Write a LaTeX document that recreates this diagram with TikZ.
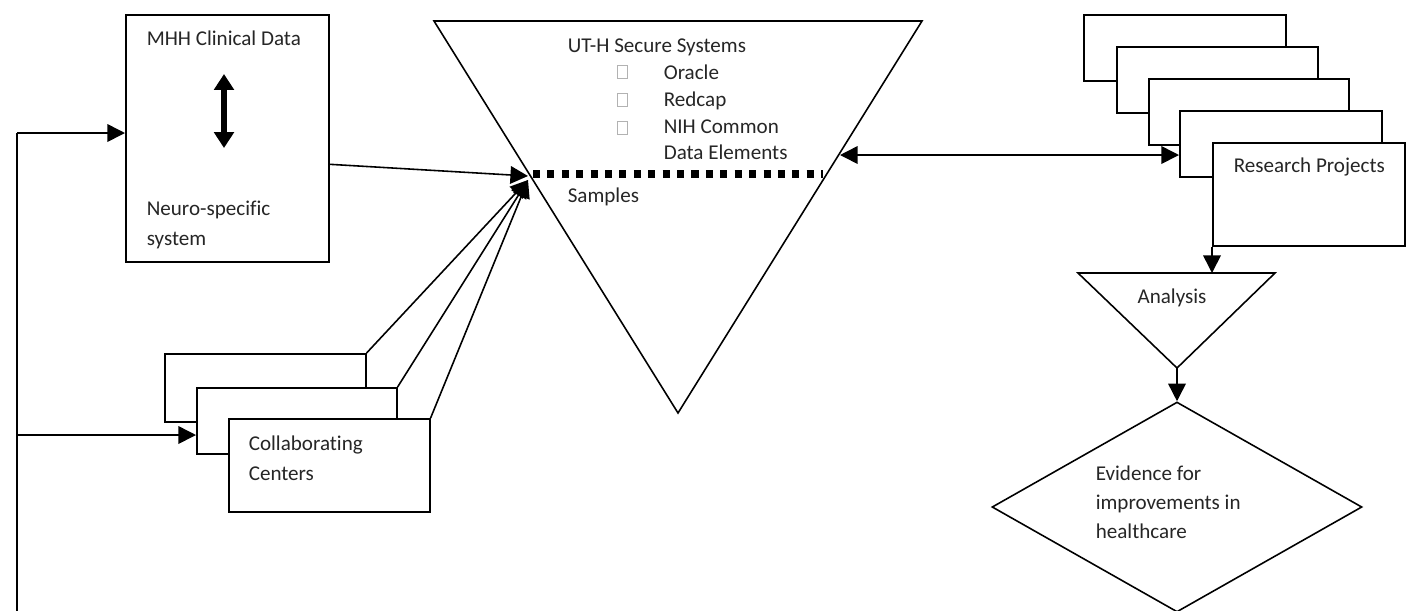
\documentclass[tikz,border=0pt]{standalone}
\usepackage{fontspec}
\setmainfont{Carlito}[Ligatures=NoCommon]
\usetikzlibrary{arrows.meta,shapes.geometric,calc}

\begin{document}
\begin{tikzpicture}[x=0.02cm,y=-0.02cm,line width=0.9pt,
  box/.style 2 args={draw,fill=white,rectangle,inner sep=0pt,anchor=north west,
    minimum width=#1*0.02cm,minimum height=#2*0.02cm},
  txt/.style={anchor=base west,inner sep=0pt,text=black!85,
    font=\fontsize{12}{14}\selectfont},
  bul/.style={draw=black!30,line width=0.5pt,inner sep=0pt,
    minimum width=10*0.02cm,minimum height=13*0.02cm},
  link/.style={draw,-{Triangle[length=10pt,width=10pt]}},
  link2/.style={draw,{Triangle[length=10pt,width=10pt]}-{Triangle[length=10pt,width=10pt]}}]
\useasboundingbox (0,0) rectangle (1406,610);

% clinical data box
\node[box={203}{247}] (mhh) at (125,14) {};
\node[txt] (mhhT) at (146,45) {MHH Clinical Data};
\node[txt] (neuro) at (146,215) {Neuro-specific};
\node[txt] (sys) at (146,245) {system};
\coordinate (mU) at (224,74);
\coordinate (mD) at (224,148);
\draw[line width=3.5pt,{Triangle[length=9pt,width=11pt]}-{Triangle[length=9pt,width=11pt]}] (mU) -- (mD);

% collaborating centers
\node[box={201}{68}] (ccA) at (164,353) {};
\node[box={200}{66}] (ccB) at (196,387) {};
\node[box={201}{93}] (ccC) at (228,418) {};
\node[txt] (col1) at (248,450) {Collaborating};
\node[txt] (col2) at (248,480) {Centers};

% secure systems
\coordinate (uL) at (434,21);
\coordinate (uR) at (922,21);
\coordinate (uB) at (678,413);
\draw (uL) -- (uR) -- (uB) -- cycle;
\coordinate (sL) at (533,174);
\coordinate (sR) at (823,174);
\draw[line width=4pt,dash pattern=on 4pt off 4.2pt] (sL) -- (sR);
\node[txt] (uth) at (567,52) {UT-H Secure Systems};
\node[bul] (b1) at (622,72) {};
\node[bul] (b2) at (622,100) {};
\node[bul] (b3) at (622,128) {};
\node[txt] (orc) at (663,79) {Oracle};
\node[txt] (rdc) at (663,106) {Redcap};
\node[txt] (nih) at (663,133) {NIH Common};
\node[txt] (dat) at (663,159) {Data Elements};
\node[txt] (smp) at (567,202) {Samples};

% research projects
\node[box={202}{66}] (rpA) at (1083,14) {};
\node[box={201}{66}] (rpB) at (1116,46) {};
\node[box={200}{66}] (rpC) at (1148,78) {};
\node[box={202}{66}] (rpD) at (1179,110) {};
\node[box={192}{103}] (rpE) at (1212,142) {};
\node[txt] (rpT) at (1233,172) {Research Projects};

% analysis and evidence
\coordinate (aL) at (1078,273);
\coordinate (aR) at (1275,273);
\coordinate (aB) at (1177,368);
\draw (aL) -- (aR) -- (aB) -- cycle;
\node[txt,anchor=base] (anT) at (1172,303) {Analysis};
\node[draw,diamond,inner sep=0pt,minimum width=370*0.02cm,minimum height=210*0.02cm] (evid) at (1177,507) {};
\node[txt] (ev1) at (1095,480) {Evidence for};
\node[txt] (ev2) at (1095,509) {improvements in};
\node[txt] (ev3) at (1095,538) {healthcare};

% connectors
\coordinate (fbB) at (17,612);
\coordinate (fbT) at (17,133);
\coordinate (fbM) at (17,435);
\coordinate (tIn) at (528,176);
\coordinate (tIn2) at (528,180);
\coordinate (tRt) at (840,155);
\draw (fbB) -- (fbT);
\path[link] (fbT) -- (fbT -| mhh.west);
\path[link] (fbM) -- (fbM -| ccB.west);
\path[link] ($(mhh.east)+(0,26)$) -- (tIn);
\path[link] (ccA.north east) -- (tIn2);
\path[link] (ccB.north east) -- (tIn2);
\path[link] (ccC.north east) -- (tIn2);
\path[link2] (tRt) -- (tRt -| rpD.west);
\path[link] (rpE.south west) -- (rpE.south west |- aL);
\path[link] (aB) -- (evid.north);
\end{tikzpicture}
\end{document}
